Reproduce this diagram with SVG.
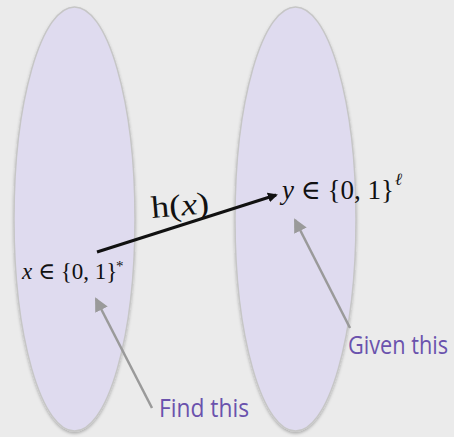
<svg xmlns="http://www.w3.org/2000/svg" width="454" height="437" viewBox="0 0 454 437">
<defs>
<filter id="sh" x="-20%" y="-10%" width="140%" height="120%">
<feDropShadow dx="0" dy="2" stdDeviation="1.5" flood-color="#000" flood-opacity="0.25"/>
</filter>
<marker id="ab" markerWidth="10" markerHeight="10" refX="8" refY="5" orient="auto" markerUnits="userSpaceOnUse">
<path d="M0,0 L10,5 L0,10 Z" fill="#111"/>
</marker>
<marker id="ag" markerWidth="14" markerHeight="14" refX="12" refY="7" orient="auto" markerUnits="userSpaceOnUse">
<path d="M0,0 L14,7 L0,14 Z" fill="#9a9a9a"/>
</marker>
</defs>
<style>
.set{fill:#dfdbef;stroke:#c6c6c6;stroke-width:1.5;filter:url(#sh)}
.math{font-family:"Liberation Serif","DejaVu Serif",serif;fill:#111}
.it{font-style:italic}
.lbl{font-family:"Open Sans","Noto Sans",sans-serif;fill:#6a52ad;font-size:26px}
.gray{stroke:#9a9a9a;stroke-width:2.5;fill:none;marker-end:url(#ag)}
</style>
<rect width="454" height="437" fill="#ebebeb"/>
<g id="domain"><ellipse class="set" cx="74.5" cy="219" rx="60.5" ry="212"/></g>
<g id="range"><ellipse class="set" cx="295.5" cy="219" rx="60.5" ry="212"/></g>
<g id="x-node"><text class="math" x="22" y="279" font-size="23"><tspan class="it">x</tspan> ∈ {0, 1}</text><text class="math" x="116" y="271" font-size="15">*</text></g>
<g id="y-node"><text class="math" x="282" y="199" font-size="27"><tspan class="it">y</tspan> ∈ {0, 1}</text><text class="math it" x="395" y="185" font-size="17">ℓ</text></g>
<g id="find-label"><text class="lbl" x="159" y="417" textLength="90" lengthAdjust="spacingAndGlyphs">Find this</text></g>
<g id="given-label"><text class="lbl" x="348" y="354" textLength="100" lengthAdjust="spacingAndGlyphs">Given this</text></g>
<g id="connectors">
<line x1="97" y1="252" x2="276" y2="195" stroke="#111" stroke-width="3" marker-end="url(#ab)"/>
<text class="math" x="152" y="218" font-size="31" textLength="58" lengthAdjust="spacingAndGlyphs" transform="rotate(-5 152 218)">h(<tspan class="it">x</tspan>)</text>
<line class="gray" x1="152" y1="408" x2="96" y2="299"/>
<line class="gray" x1="350" y1="328" x2="295" y2="220"/>
</g>
</svg>
